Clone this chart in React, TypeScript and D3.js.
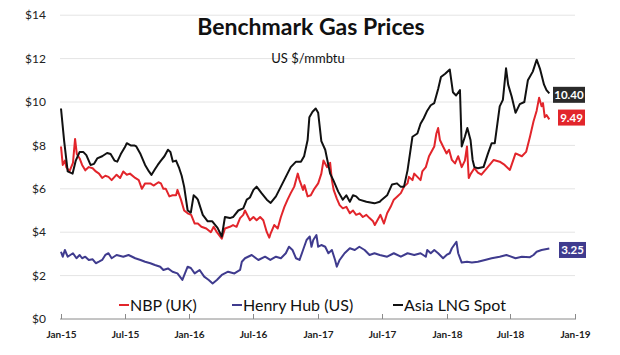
import React from "react";
import * as d3 from "d3";

// ---- Data (US $/mmbtu) ----
const nbpSeries: [string, number][] = [
  ["2015-01-01", 7.95], ["2015-01-06", 7.1], ["2015-01-12", 7.3], ["2015-01-16", 7.0], ["2015-01-25", 6.8],
  ["2015-02-04", 7.2], ["2015-02-10", 8.3], ["2015-02-15", 7.6], ["2015-02-23", 7.4], ["2015-03-02", 7.1],
  ["2015-03-11", 6.85], ["2015-03-21", 7.0], ["2015-04-01", 6.95], ["2015-04-10", 6.8], ["2015-04-19", 6.7],
  ["2015-04-28", 6.5], ["2015-05-07", 6.6], ["2015-05-16", 6.55], ["2015-05-25", 6.4], ["2015-06-08", 6.65],
  ["2015-06-18", 6.5], ["2015-06-27", 6.8], ["2015-07-07", 6.65], ["2015-07-16", 6.7], ["2015-07-31", 6.5],
  ["2015-08-10", 6.4], ["2015-08-19", 6.0], ["2015-08-28", 6.25], ["2015-09-12", 6.25], ["2015-09-21", 6.15],
  ["2015-10-05", 6.3], ["2015-10-12", 6.25], ["2015-10-19", 6.0], ["2015-10-26", 6.0], ["2015-11-05", 5.65],
  ["2015-11-14", 5.7], ["2015-11-24", 5.7], ["2015-11-28", 5.95], ["2015-12-08", 5.5], ["2015-12-17", 5.0],
  ["2015-12-27", 4.87], ["2016-01-06", 4.8], ["2016-01-16", 4.4], ["2016-01-25", 4.4], ["2016-02-04", 4.25],
  ["2016-02-18", 4.17], ["2016-03-02", 4.0], ["2016-03-10", 4.25], ["2016-03-19", 4.0], ["2016-04-02", 3.7],
  ["2016-04-11", 4.17], ["2016-04-25", 4.25], ["2016-05-04", 4.33], ["2016-05-14", 4.25], ["2016-05-24", 4.65],
  ["2016-06-02", 4.8], ["2016-06-07", 5.0], ["2016-06-21", 4.55], ["2016-07-01", 4.7], ["2016-07-10", 4.55],
  ["2016-07-20", 4.7], ["2016-07-29", 4.55], ["2016-08-08", 4.0], ["2016-08-15", 3.75], ["2016-08-19", 3.95],
  ["2016-08-29", 4.33], ["2016-09-08", 4.17], ["2016-09-17", 4.7], ["2016-09-27", 5.17], ["2016-10-06", 5.5],
  ["2016-10-15", 5.8], ["2016-10-25", 6.1], ["2016-11-04", 6.7], ["2016-11-09", 6.4], ["2016-11-19", 5.95],
  ["2016-11-23", 6.17], ["2016-12-02", 5.65], ["2016-12-11", 5.7], ["2016-12-21", 6.0], ["2017-01-01", 6.25],
  ["2017-01-10", 6.7], ["2017-01-16", 7.3], ["2017-01-26", 7.0], ["2017-02-04", 7.2], ["2017-02-09", 6.4],
  ["2017-02-14", 5.95], ["2017-02-23", 5.55], ["2017-03-03", 5.25], ["2017-03-12", 5.1], ["2017-03-22", 5.17],
  ["2017-04-01", 4.87], ["2017-04-10", 5.0], ["2017-04-19", 4.8], ["2017-04-29", 4.87], ["2017-05-08", 4.7],
  ["2017-05-18", 4.8], ["2017-05-27", 4.65], ["2017-06-06", 4.5], ["2017-06-11", 4.33], ["2017-06-20", 4.6],
  ["2017-06-27", 4.8], ["2017-07-07", 4.4], ["2017-07-16", 4.87], ["2017-07-26", 5.17], ["2017-08-04", 5.5],
  ["2017-08-14", 5.65], ["2017-08-24", 5.8], ["2017-09-02", 6.1], ["2017-09-12", 6.25], ["2017-09-16", 6.55],
  ["2017-09-26", 6.4], ["2017-10-01", 6.7], ["2017-10-10", 6.55], ["2017-10-19", 6.4], ["2017-10-24", 6.8],
  ["2017-11-03", 7.0], ["2017-11-12", 7.5], ["2017-11-22", 7.8], ["2017-11-27", 7.95], ["2017-12-03", 8.55],
  ["2017-12-08", 8.8], ["2017-12-13", 8.25], ["2017-12-22", 7.95], ["2018-01-01", 7.63], ["2018-01-08", 7.8],
  ["2018-01-16", 7.33], ["2018-01-25", 7.17], ["2018-02-03", 7.5], ["2018-02-13", 7.0], ["2018-02-22", 7.3],
  ["2018-02-28", 7.95], ["2018-03-05", 6.5], ["2018-03-11", 6.7], ["2018-03-21", 6.95], ["2018-03-31", 6.75],
  ["2018-04-10", 6.65], ["2018-04-28", 7.0], ["2018-05-15", 7.33], ["2018-06-01", 7.25], ["2018-06-15", 7.1],
  ["2018-06-30", 6.87], ["2018-07-16", 7.63], ["2018-08-03", 7.5], ["2018-08-15", 7.7], ["2018-08-26", 8.4],
  ["2018-09-05", 9.1], ["2018-09-14", 9.6], ["2018-09-21", 10.2], ["2018-09-28", 9.8], ["2018-10-02", 9.95],
  ["2018-10-07", 9.3], ["2018-10-12", 9.4], ["2018-10-20", 9.2],
];

const henryHubSeries: [string, number][] = [
  ["2015-01-01", 3.1], ["2015-01-06", 2.87], ["2015-01-12", 3.18], ["2015-01-20", 2.87], ["2015-02-04", 3.03],
  ["2015-02-14", 2.8], ["2015-02-23", 2.95], ["2015-03-02", 2.8], ["2015-03-11", 2.87], ["2015-03-21", 2.72],
  ["2015-04-01", 2.75], ["2015-04-10", 2.57], ["2015-04-19", 2.64], ["2015-04-28", 2.72], ["2015-05-07", 2.95],
  ["2015-05-16", 3.03], ["2015-05-25", 2.8], ["2015-06-08", 2.95], ["2015-06-27", 2.87], ["2015-07-12", 2.95],
  ["2015-07-31", 2.8], ["2015-08-15", 2.72], ["2015-08-28", 2.64], ["2015-09-12", 2.57], ["2015-09-25", 2.49],
  ["2015-10-10", 2.41], ["2015-10-19", 2.26], ["2015-11-01", 2.33], ["2015-11-14", 2.18], ["2015-11-28", 2.1],
  ["2015-12-12", 1.8], ["2015-12-27", 2.41], ["2016-01-05", 2.35], ["2016-01-16", 2.1], ["2016-01-30", 2.26],
  ["2016-02-12", 1.95], ["2016-02-25", 1.8], ["2016-03-07", 1.64], ["2016-03-19", 1.8], ["2016-04-02", 2.03],
  ["2016-04-20", 2.18], ["2016-05-08", 2.1], ["2016-05-24", 2.26], ["2016-05-29", 2.64], ["2016-06-07", 2.8],
  ["2016-06-26", 2.95], ["2016-07-15", 2.72], ["2016-08-03", 2.87], ["2016-08-18", 2.72], ["2016-09-03", 2.87],
  ["2016-09-17", 2.8], ["2016-10-01", 3.03], ["2016-10-10", 3.33], ["2016-10-20", 3.18], ["2016-10-30", 2.8],
  ["2016-11-09", 2.72], ["2016-11-19", 3.18], ["2016-11-29", 3.64], ["2016-12-08", 3.8], ["2016-12-13", 3.33],
  ["2016-12-18", 3.64], ["2016-12-27", 3.87], ["2017-01-01", 3.33], ["2017-01-10", 3.41], ["2017-01-21", 3.33],
  ["2017-01-30", 3.03], ["2017-02-09", 3.18], ["2017-02-18", 2.72], ["2017-02-23", 2.41], ["2017-03-03", 2.72],
  ["2017-03-17", 3.03], ["2017-04-01", 3.26], ["2017-04-15", 3.18], ["2017-04-28", 3.33], ["2017-05-13", 3.18],
  ["2017-05-27", 2.95], ["2017-06-10", 3.03], ["2017-06-25", 2.95], ["2017-07-16", 2.87], ["2017-08-04", 3.03],
  ["2017-08-24", 2.87], ["2017-09-12", 3.03], ["2017-10-01", 2.95], ["2017-10-19", 3.03], ["2017-11-03", 2.87],
  ["2017-11-07", 3.18], ["2017-11-17", 3.03], ["2017-11-27", 3.18], ["2017-12-08", 3.03], ["2017-12-22", 2.8],
  ["2018-01-01", 2.95], ["2018-01-10", 3.03], ["2018-01-16", 3.26], ["2018-01-29", 3.56], ["2018-02-03", 3.03],
  ["2018-02-13", 2.6], ["2018-02-28", 2.64], ["2018-03-14", 2.6], ["2018-03-31", 2.64], ["2018-04-20", 2.72],
  ["2018-05-09", 2.8], ["2018-06-01", 2.87], ["2018-06-20", 2.95], ["2018-07-16", 2.8], ["2018-08-03", 2.87],
  ["2018-08-26", 2.85], ["2018-09-05", 2.95], ["2018-09-14", 3.1], ["2018-09-28", 3.18], ["2018-10-20", 3.25],
];

const asiaLngSeries: [string, number][] = [
  ["2015-01-01", 9.7], ["2015-01-10", 8.2], ["2015-01-20", 6.8], ["2015-02-03", 6.7], ["2015-02-12", 7.3],
  ["2015-02-23", 7.7], ["2015-03-05", 7.7], ["2015-03-14", 7.55], ["2015-03-26", 7.1], ["2015-04-05", 7.15],
  ["2015-04-14", 7.4], ["2015-04-28", 7.5], ["2015-05-12", 7.65], ["2015-05-22", 7.6], ["2015-06-02", 7.3],
  ["2015-06-10", 7.25], ["2015-06-20", 7.6], ["2015-07-01", 7.9], ["2015-07-07", 8.1], ["2015-07-18", 8.0],
  ["2015-07-28", 8.0], ["2015-08-03", 7.95], ["2015-08-15", 7.6], ["2015-08-28", 7.1], ["2015-09-08", 6.8],
  ["2015-09-15", 6.64], ["2015-09-25", 6.9], ["2015-10-03", 7.1], ["2015-10-12", 7.3], ["2015-10-22", 7.5],
  ["2015-11-01", 7.8], ["2015-11-08", 7.7], ["2015-11-15", 7.25], ["2015-11-24", 7.3], ["2015-12-03", 6.95],
  ["2015-12-10", 6.6], ["2015-12-17", 6.1], ["2015-12-27", 5.0], ["2016-01-05", 4.9], ["2016-01-13", 5.7],
  ["2016-01-20", 5.6], ["2016-01-25", 5.5], ["2016-02-08", 4.8], ["2016-02-22", 4.5], ["2016-03-06", 4.5],
  ["2016-03-21", 4.2], ["2016-04-02", 3.8], ["2016-04-11", 4.7], ["2016-04-25", 4.65], ["2016-05-04", 4.7],
  ["2016-05-19", 5.0], ["2016-06-02", 5.1], ["2016-06-12", 5.5], ["2016-06-21", 5.6], ["2016-07-01", 5.95],
  ["2016-07-10", 6.1], ["2016-07-24", 5.8], ["2016-08-08", 5.5], ["2016-08-19", 5.35], ["2016-09-03", 5.65],
  ["2016-09-17", 6.1], ["2016-10-01", 6.55], ["2016-10-15", 7.0], ["2016-10-30", 7.25], ["2016-11-13", 7.25],
  ["2016-11-22", 7.5], ["2016-12-02", 8.25], ["2016-12-07", 9.3], ["2016-12-16", 9.55], ["2016-12-25", 9.7],
  ["2017-01-01", 9.5], ["2017-01-10", 8.2], ["2017-01-21", 7.8], ["2017-02-04", 6.7], ["2017-02-13", 6.4],
  ["2017-02-27", 5.87], ["2017-03-12", 5.5], ["2017-03-22", 5.7], ["2017-04-01", 5.4], ["2017-04-10", 5.7],
  ["2017-04-19", 5.65], ["2017-04-28", 5.5], ["2017-05-18", 5.4], ["2017-06-10", 5.33], ["2017-06-25", 5.4],
  ["2017-07-01", 5.5], ["2017-07-16", 5.7], ["2017-07-30", 6.2], ["2017-08-13", 6.25], ["2017-08-23", 6.1],
  ["2017-09-02", 6.1], ["2017-09-12", 6.85], ["2017-09-26", 8.4], ["2017-10-10", 8.55], ["2017-10-19", 9.0],
  ["2017-10-28", 9.25], ["2017-11-07", 9.6], ["2017-11-17", 9.85], ["2017-11-27", 9.95], ["2017-12-08", 10.6],
  ["2017-12-16", 11.15], ["2017-12-28", 11.3], ["2018-01-10", 11.5], ["2018-01-19", 10.45], ["2018-01-28", 10.3],
  ["2018-02-08", 10.55], ["2018-02-13", 7.95], ["2018-02-22", 8.4], ["2018-03-01", 8.8], ["2018-03-10", 8.25],
  ["2018-03-16", 7.33], ["2018-03-21", 7.0], ["2018-03-31", 6.95], ["2018-04-16", 7.0], ["2018-04-28", 7.6],
  ["2018-05-09", 8.1], ["2018-05-18", 8.1], ["2018-06-01", 9.8], ["2018-06-10", 10.1], ["2018-06-19", 11.55],
  ["2018-06-25", 10.8], ["2018-07-05", 10.25], ["2018-07-16", 9.5], ["2018-07-28", 9.9], ["2018-08-10", 10.0],
  ["2018-08-20", 11.0], ["2018-09-03", 11.4], ["2018-09-14", 11.95], ["2018-09-24", 11.5], ["2018-10-05", 10.8],
  ["2018-10-12", 10.55], ["2018-10-20", 10.4],
];

const yTickValues = [0, 2, 4, 6, 8, 10, 12, 14];
const xTickDates = [
  "2015-01-01", "2015-07-01", "2016-01-01", "2016-07-01", "2017-01-01",
  "2017-07-01", "2018-01-01", "2018-07-01", "2019-01-01",
];
const xTickLabels = ["Jan-15", "Jul-15", "Jan-16", "Jul-16", "Jan-17", "Jul-17", "Jan-18", "Jul-18", "Jan-19"];
const seriesNames = ["NBP (UK)", "Henry Hub (US)", "Asia LNG Spot"];
const seriesColors = ["#e2252b", "#3f3b8e", "#111111"];
const lastValueLabels = ["9.49", "3.25", "10.40"];
const titleText = "Benchmark Gas Prices";
const subtitleText = "US $/mmbtu";

const parse = d3.timeParse("%Y-%m-%d");
const FONT = "Lato, 'Open Sans', sans-serif";

export default function App() {
  const W = 620;
  const H = 355;
  const x = d3
    .scaleTime()
    .domain([parse("2015-01-01")!, parse("2019-01-01")!])
    .range([61, 575]);
  const y = d3.scaleLinear().domain([0, 14]).range([319, 15.2]);

  const line = d3
    .line<[string, number]>()
    .x((d) => x(parse(d[0])!))
    .y((d) => y(d[1]));

  const allSeries = [nbpSeries, henryHubSeries, asiaLngSeries];
  const drawOrder = [1, 0, 2];

  // end label boxes
  const labelBoxes = [
    { idx: 0, w: 27, dx: 558, dy: 4.5 },
    { idx: 1, w: 27, dx: 559, dy: 1.5 },
    { idx: 2, w: 32, dx: 553, dy: 1.5 },
  ];

  const legendItems = [
    { idx: 0, x0: 119 },
    { idx: 1, x0: 232 },
    { idx: 2, x0: 393 },
  ];

  return (
    <svg
      width={W}
      height={H}
      style={{ position: "absolute", left: 0, top: 0, background: "#fff" }}
      fontFamily={FONT}
    >
      <rect x={0} y={0} width={W} height={H} fill="#fff" />
      {/* gridlines */}
      {yTickValues.slice(1).map((v) => (
        <line key={v} x1={60} x2={575} y1={y(v)} y2={y(v)} stroke="#e4e4e4" strokeWidth={1} />
      ))}
      {/* y labels */}
      {yTickValues.map((v) => (
        <text
          key={"yl" + v}
          x={46}
          y={y(v)}
          dy="0.35em"
          textAnchor="end"
          fontSize={12}
          fill="#222"
        >
          {"$" + v}
        </text>
      ))}
      {/* x axis */}
      <line x1={60} x2={576} y1={y(0)} y2={y(0)} stroke="#8a8a8a" strokeWidth={1} />
      {xTickDates.map((d, i) => {
        const xx = Math.round(x(parse(d)!)) + 0.5;
        return (
          <g key={d}>
            <line x1={xx} x2={xx} y1={y(0) - 5} y2={y(0)} stroke="#8a8a8a" strokeWidth={1} />
            <text x={xx} y={338} textAnchor="middle" fontSize={10} fontWeight="bold" fill="#222">
              {xTickLabels[i]}
            </text>
          </g>
        );
      })}
      {/* title */}
      <text x={311} y={35} textAnchor="middle" fontSize={23} fontWeight="bold" fill="#111">
        {titleText}
      </text>
      <text x={308} y={63} textAnchor="middle" fontSize={13} fill="#111">
        {subtitleText}
      </text>
      {/* series */}
      {drawOrder.map((i) => (
        <path
          key={"s" + i}
          d={line(allSeries[i]) || ""}
          fill="none"
          stroke={seriesColors[i]}
          strokeWidth={2}
          strokeLinejoin="round"
        />
      ))}
      {/* end labels */}
      {labelBoxes.map((b) => {
        const v = +lastValueLabels[b.idx];
        const cy = y(v) + b.dy;
        return (
          <g key={"lb" + b.idx}>
            <rect x={b.dx} y={cy - 8} width={b.w} height={16} fill={b.idx === 2 ? "#2a2a2a" : seriesColors[b.idx]} />
            <text
              x={b.dx + b.w / 2}
              y={cy}
              dy="0.36em"
              textAnchor="middle"
              fontSize={11.5}
              fontWeight="bold"
              fill="#fff"
            >
              {lastValueLabels[b.idx]}
            </text>
          </g>
        );
      })}
      {/* legend */}
      {legendItems.map((l) => (
        <g key={"lg" + l.idx}>
          <line x1={l.x0} x2={l.x0 + 10} y1={305} y2={305} stroke={seriesColors[l.idx]} strokeWidth={2} />
          <text x={l.x0 + 11} y={305} dy="0.35em" fontSize={16} fill="#111">
            {seriesNames[l.idx]}
          </text>
        </g>
      ))}
    </svg>
  );
}
